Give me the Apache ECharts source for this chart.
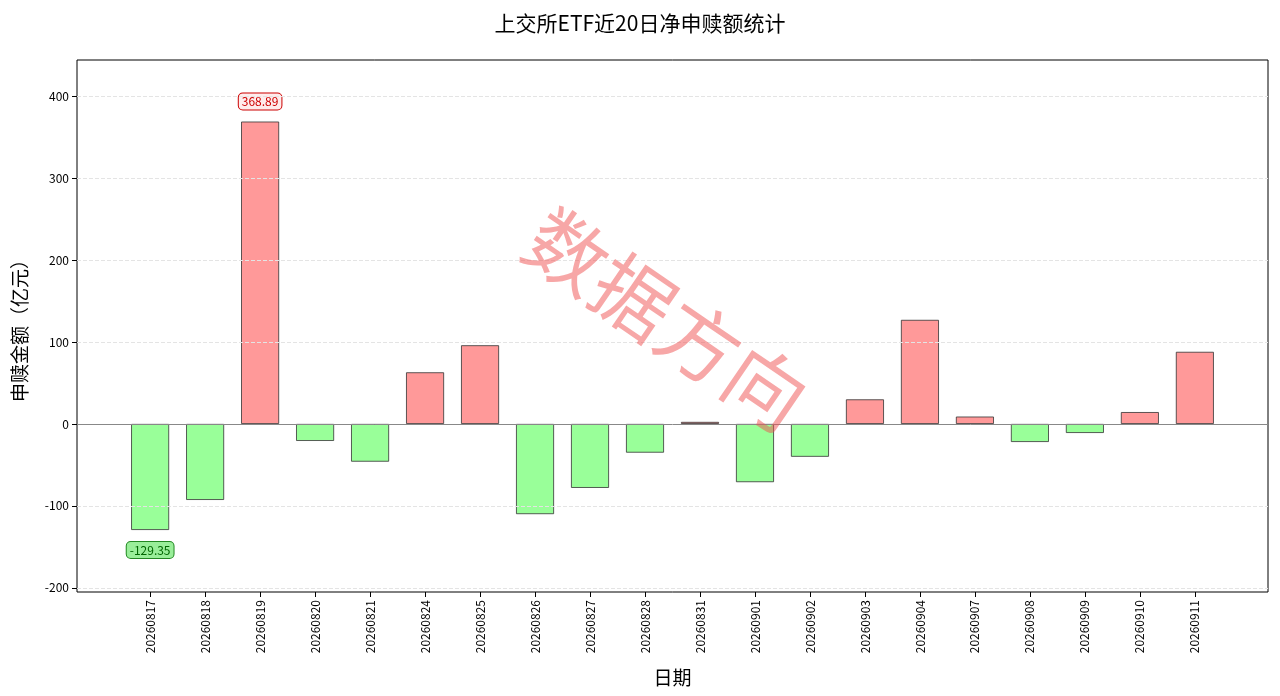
<!DOCTYPE html>
<html><head><meta charset="utf-8">
<script src="https://cdn.jsdelivr.net/npm/echarts@6/dist/echarts.min.js"></script>
<style>html,body{margin:0;padding:0;background:#fff}#c{width:1280px;height:696px}</style>
</head><body><div id="c"></div>
<script>
const dates = ['20260817','20260818','20260819','20260820','20260821','20260824','20260825','20260826','20260827','20260828','20260831','20260901','20260902','20260903','20260904','20260907','20260908','20260909','20260910','20260911'];
const values = [-129.35,-92.7,368.89,-20.7,-46,63,96,-110,-78,-35,2.5,-71,-40,30,127,9,-22,-11,14.5,88];
const yTicks = [-200,-100,0,100,200,300,400];
const F = '"Noto Sans CJK SC", sans-serif';
const maxI = values.indexOf(Math.max(...values)), minI = values.indexOf(Math.min(...values));
const data = values.map((v,i)=>{
  const d = {value:[i,v], itemStyle:{color: v>=0?'#ff9999':'#99ff99', borderColor:'#333', borderWidth:0.8}};
  if(i===maxI) d.label={show:true,position:'top',distance:12,formatter:v.toFixed(2),color:'#cc0000',fontSize:12,fontFamily:F,backgroundColor:'#ffecec',borderColor:'#cc0000',borderWidth:1,borderRadius:4,padding:[2,3]};
  if(i===minI) d.label={show:true,position:'bottom',distance:12,formatter:v.toFixed(2),color:'#006600',fontSize:12,fontFamily:F,backgroundColor:'#99ee99',borderColor:'#228822',borderWidth:1,borderRadius:4,padding:[2,3]};
  return d;
});
const chart = echarts.init(document.getElementById('c'));
chart.setOption({
  animation:false,
  title:{text:'上交所ETF近20日净申赎额统计',left:'center',top:8,textStyle:{fontFamily:F,fontSize:21,fontWeight:'normal',color:'#000'}},
  grid:{left:77,right:12,top:60,bottom:104,show:true,borderColor:'#000',borderWidth:1},
  xAxis:{type:'value',min:-1.33,max:20.33,name:'日期',nameLocation:'middle',nameGap:76,nameTextStyle:{fontFamily:F,fontSize:19,color:'#000'},
    axisLine:{show:false,onZero:false},splitLine:{show:false},
    axisTick:{show:true,customValues:dates.map((_,i)=>i),lineStyle:{color:'#000'}},
    axisLabel:{customValues:dates.map((_,i)=>i),formatter:v=>dates[Math.round(v)],rotate:90,fontFamily:F,fontSize:12,color:'#000'}},
  yAxis:{type:'value',min:-205,max:444,name:'申赎金额（亿元）',nameLocation:'middle',nameGap:48,nameTextStyle:{fontFamily:F,fontSize:19,color:'#000'},
    axisLine:{show:false,onZero:false},
    axisTick:{show:true,customValues:yTicks,lineStyle:{color:'#000'}},
    axisLabel:{customValues:yTicks,fontFamily:F,fontSize:12,color:'#000'},
    splitLine:{show:false}},
  series:[{type:'bar',barWidth:38,data:data,
    markLine:{silent:true,symbol:'none',label:{show:false},data:[
      {yAxis:0,lineStyle:{color:'#888',type:'solid',width:1}},
      ...yTicks.filter(t=>t!==0).map(t=>({yAxis:t,lineStyle:{color:'#e4e4e4',type:'dashed',width:1}}))]},
    z:2}],
  graphic:[{type:'text',left:512,top:196,rotation:-0.6,z:100,style:{text:'数据方向',font:'80px '+F,fill:'rgba(240,80,80,0.5)'}}]
});
</script></body></html>
